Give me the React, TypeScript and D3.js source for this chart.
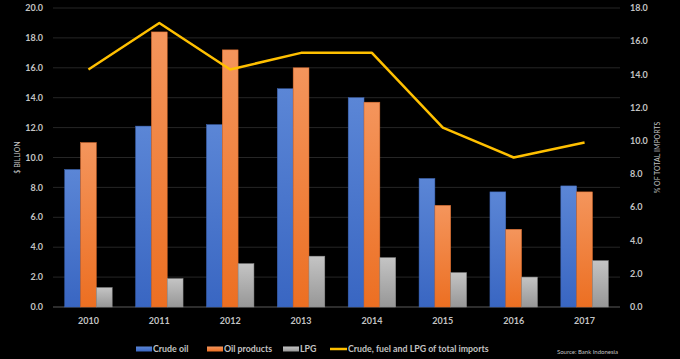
import { useEffect } from "react";
import * as d3 from "d3";

// values
const years = ["2010", "2011", "2012", "2013", "2014", "2015", "2016", "2017"];
const crudeOil = [9.2, 12.1, 12.2, 14.6, 14.0, 8.6, 7.7, 8.1];
const oilProducts = [11.0, 18.4, 17.2, 16.0, 13.7, 6.8, 5.2, 7.7];
const lpg = [1.3, 1.9, 2.9, 3.4, 3.3, 2.3, 2.0, 3.1];
const shareOfImports = [14.3, 17.1, 14.3, 15.3, 15.3, 10.8, 9.0, 9.9];

const leftTicks = [0, 2, 4, 6, 8, 10, 12, 14, 16, 18, 20];
const rightTicks = [0, 2, 4, 6, 8, 10, 12, 14, 16, 18];

const barSeries = [
  { key: "crude", name: "Crude oil", values: crudeOil, top: "#5b86d6", bottom: "#3966c2", stroke: "#3a62b0" },
  { key: "oil", name: "Oil products", values: oilProducts, top: "#f4955c", bottom: "#ec6f22", stroke: "#d8692a" },
  { key: "lpg", name: "LPG", values: lpg, top: "#c4c4c4", bottom: "#979797", stroke: "#8e8e8e" },
];

const lineName = "Crude, fuel and LPG of total imports";
const lineColor = "#ffc000";

const W = 680;
const H = 359;
const margin = { top: 8, right: 60, bottom: 52, left: 53 };
const font = "Lato, 'Open Sans', sans-serif";
const tickColor = "#c3c3c3";

export default function App() {
  useEffect(() => {
    document.body.style.margin = "0";
    document.body.style.background = "#000";
  }, []);

  const x = d3
    .scaleBand<string>()
    .domain(years)
    .range([margin.left, W - margin.right]);

  const yLeft = d3.scaleLinear().domain([0, 20]).range([H - margin.bottom, margin.top]);
  const yRight = d3.scaleLinear().domain([0, 18]).range([H - margin.bottom, margin.top]);

  const groupW = x.bandwidth() * 0.67;
  const xInner = d3
    .scaleBand<string>()
    .domain(barSeries.map((s) => s.key))
    .range([0, groupW]);

  const line = d3
    .line<number>()
    .x((_, i) => (x(years[i]) || 0) + x.bandwidth() / 2)
    .y((d) => yRight(d));

  // legend layout
  const legendItems = [
    { x: 136, s: barSeries[0] },
    { x: 207, s: barSeries[1] },
    { x: 283, s: barSeries[2] },
  ];
  const legendY = 349;

  return (
    <svg width={W} height={H} style={{ display: "block", background: "#000" }} fontFamily={font}>
      <defs>
        {barSeries.map((s) => (
          <linearGradient key={s.key} id={`grad-${s.key}`} x1="0" y1="0" x2="0" y2="1">
            <stop offset="0%" stopColor={s.top} />
            <stop offset="100%" stopColor={s.bottom} />
          </linearGradient>
        ))}
      </defs>

      {/* gridlines */}
      {leftTicks.map((t) => (
        <line
          key={t}
          x1={margin.left}
          x2={W - margin.right}
          y1={yLeft(t)}
          y2={yLeft(t)}
          stroke={t === 0 ? "#5a5a5a" : "#262626"}
          strokeWidth={1}
        />
      ))}

      {/* left ticks */}
      {leftTicks.map((t) => (
        <text
          key={t}
          x={margin.left - 10}
          y={yLeft(t)}
          dy="0.35em"
          textAnchor="end"
          fontSize={9}
          fontWeight={700}
          fill={tickColor}
        >
          {t.toFixed(1)}
        </text>
      ))}

      {/* right ticks */}
      {rightTicks.map((t) => (
        <text
          key={t}
          x={W - margin.right + 10}
          y={yRight(t)}
          dy="0.35em"
          textAnchor="start"
          fontSize={9}
          fontWeight={700}
          fill={tickColor}
        >
          {t.toFixed(1)}
        </text>
      ))}

      {/* axis titles */}
      <text
        transform={`translate(20,${(margin.top + H - margin.bottom) / 2}) rotate(-90)`}
        textAnchor="middle"
        fontSize={7}
        fill={tickColor}
      >
        $ BILLION
      </text>
      <text
        transform={`translate(660,${(margin.top + H - margin.bottom) / 2}) rotate(-90)`}
        textAnchor="middle"
        fontSize={7}
        fill={tickColor}
      >
        % OF TOTAL IMPORTS
      </text>

      {/* bars */}
      {years.map((yr, i) => {
        const gx = (x(yr) || 0) + (x.bandwidth() - groupW) / 2;
        return (
          <g key={yr} transform={`translate(${gx},0)`}>
            {barSeries.map((s) => {
              const v = s.values[i];
              return (
                <rect
                  key={s.key}
                  x={xInner(s.key)}
                  y={yLeft(v)}
                  width={xInner.bandwidth()}
                  height={yLeft(0) - yLeft(v)}
                  fill={`url(#grad-${s.key})`}
                  stroke={s.stroke}
                  strokeWidth={0.5}
                />
              );
            })}
          </g>
        );
      })}

      {/* line */}
      <path d={line(shareOfImports) || ""} fill="none" stroke={lineColor} strokeWidth={2.5} strokeLinejoin="round" />

      {/* x labels */}
      {years.map((yr) => (
        <text
          key={yr}
          x={(x(yr) || 0) + x.bandwidth() / 2}
          y={321}
          dy="0.35em"
          textAnchor="middle"
          fontSize={9}
          fontWeight={700}
          fill={tickColor}
        >
          {yr}
        </text>
      ))}

      {/* legend */}
      {legendItems.map((it) => (
        <g key={it.s.key}>
          <rect x={it.x} y={legendY - 2.5} width={16} height={5} fill={`url(#grad-${it.s.key})`} />
          <text x={it.x + 17} y={legendY} dy="0.35em" fontSize={8.8} fontWeight={700} fill={tickColor}>
            {it.s.name}
          </text>
        </g>
      ))}
      <line x1={330} x2={347} y1={legendY} y2={legendY} stroke={lineColor} strokeWidth={2.5} />
      <text x={348} y={legendY} dy="0.35em" fontSize={8.8} fontWeight={700} fill={tickColor}>
        {lineName}
      </text>

      <text x={618} y={352} dy="0.35em" textAnchor="end" fontSize={6} fill={tickColor}>
        Source: Bank Indonesia
      </text>
    </svg>
  );
}
